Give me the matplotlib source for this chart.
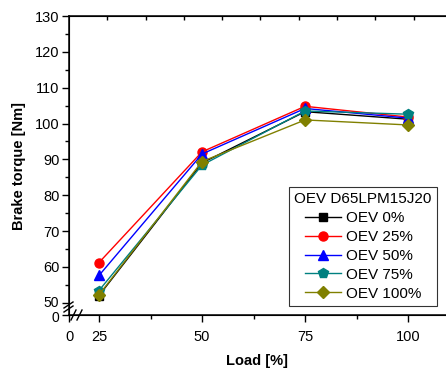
import matplotlib
matplotlib.use('Agg')
import matplotlib.pyplot as plt
import matplotlib.transforms as mtransforms
import numpy as np

plt.rcParams['font.family'] = ['Liberation Sans', 'DejaVu Sans']

# data
load = [25, 50, 75, 100]
oev0 = [52.0, 89.0, 103.3, 101.2]
oev25 = [61.2, 92.1, 104.8, 101.8]
oev50 = [57.6, 91.5, 104.2, 101.5]
oev75 = [53.4, 88.4, 103.5, 102.6]
oev100 = [52.2, 89.4, 101.0, 99.6]
labels = ['OEV 0%', 'OEV 25%', 'OEV 50%', 'OEV 75%', 'OEV 100%']
legend_title = 'OEV D65LPM15J20'

series = [oev0, oev25, oev50, oev75, oev100]
colors = ['black', 'red', 'blue', '#008080', '#808000']
markers = ['s', 'o', '^', 'p', 'D']
msizes = [5.5, 6.5, 6.5, 7, 6]


# broken axes: squeeze 0..25 (x) and 0..50 (y) into a short stretch
def fx(x):
    x = np.asarray(x, float)
    return np.where(x < 25, 17.72 + x * 0.2913, x)


def fx_inv(u):
    u = np.asarray(u, float)
    return np.where(u < 25, (u - 17.72) / 0.2913, u)


def fy(y):
    y = np.asarray(y, float)
    return np.where(y < 50, 46.57 + y * 0.0686, y)


def fy_inv(u):
    u = np.asarray(u, float)
    return np.where(u < 50, (u - 46.57) / 0.0686, u)


W, H = 446, 369
fig = plt.figure(figsize=(W / 100, H / 100), dpi=100)
L, R, T, B = 69, 446, 16, 315
ax = fig.add_axes([L / W, 1 - B / H, (R - L) / W, (B - T) / H])
ax.set_xscale('function', functions=(fx, fx_inv))
ax.set_yscale('function', functions=(fy, fy_inv))

for vals, c, m, ms, lab in zip(series, colors, markers, msizes, labels):
    ax.plot(load, vals, color=c, marker=m, markersize=ms, lw=1.0, label=lab)

ax.set_xlim(0, 109.2)
ax.set_ylim(0, 130)
ax.set_xticks([0, 25, 50, 75, 100])
ax.set_xticks([37.5, 62.5, 87.5], minor=True)
ax.set_yticks([0, 50, 60, 70, 80, 90, 100, 110, 120, 130])
ax.set_yticks([55, 65, 75, 85, 95, 105, 115, 125], minor=True)
ax.tick_params(which='both', direction='out', labelsize=10.5, width=1.0)
ax.tick_params(which='major', length=5)
ax.tick_params(which='minor', length=3)
ax.tick_params(axis='x', pad=6)
ax.tick_params(axis='y', pad=2)
ax.spines['right'].set_visible(False)
for s in ['left', 'bottom', 'top']:
    ax.spines[s].set_linewidth(1.1)

# "0" and "50" sit very close on the broken y axis: nudge them apart
fig.canvas.draw()
ylabs = ax.get_yticklabels()
ylabs[0].set_transform(ylabs[0].get_transform() +
                       mtransforms.ScaledTranslation(0, -2 / 100, fig.dpi_scale_trans))
ylabs[1].set_transform(ylabs[1].get_transform() +
                       mtransforms.ScaledTranslation(0, 1.5 / 100, fig.dpi_scale_trans))
ylabs[0].set_fontsize(10)
ylabs[1].set_fontsize(10)

ax.set_xlabel('Load [%]', fontsize=10.5, fontweight='bold', labelpad=7)
ax.set_ylabel('Brake torque [Nm]', fontsize=10.5, fontweight='bold', labelpad=6)

# top axis ticks (inward, unlabeled)
top = ax.twiny()
top.set_xlim(0, 377 / 38.3)
top.set_xticks(np.arange(1, 10))
top.tick_params(direction='in', length=3, labeltop=False, width=1.0)
top.spines['right'].set_visible(False)


# break marks, given in pixel coordinates
def px(x, y):
    return (x - L) / (R - L), (B - y) / (B - T)


def slash(x0, y0, x1, y1):
    a = px(x0, y0)
    b = px(x1, y1)
    ax.plot([a[0], b[0]], [a[1], b[1]], color='black', lw=1.0,
            transform=ax.transAxes, clip_on=False)


slash(64, 308, 73, 302)
slash(64, 312, 73, 306)
slash(71, 320, 76, 310)
slash(77, 320, 82, 310)

leg = ax.legend(title=legend_title, loc='lower right',
                bbox_to_anchor=px(437, 306), fontsize=11,
                title_fontsize=11, frameon=True, fancybox=False,
                edgecolor='black', handlelength=2.4, handletextpad=0.3,
                labelspacing=0.32, borderpad=0.35, borderaxespad=0)
leg.get_frame().set_linewidth(0.8)

fig.savefig('out.png', dpi=100)
